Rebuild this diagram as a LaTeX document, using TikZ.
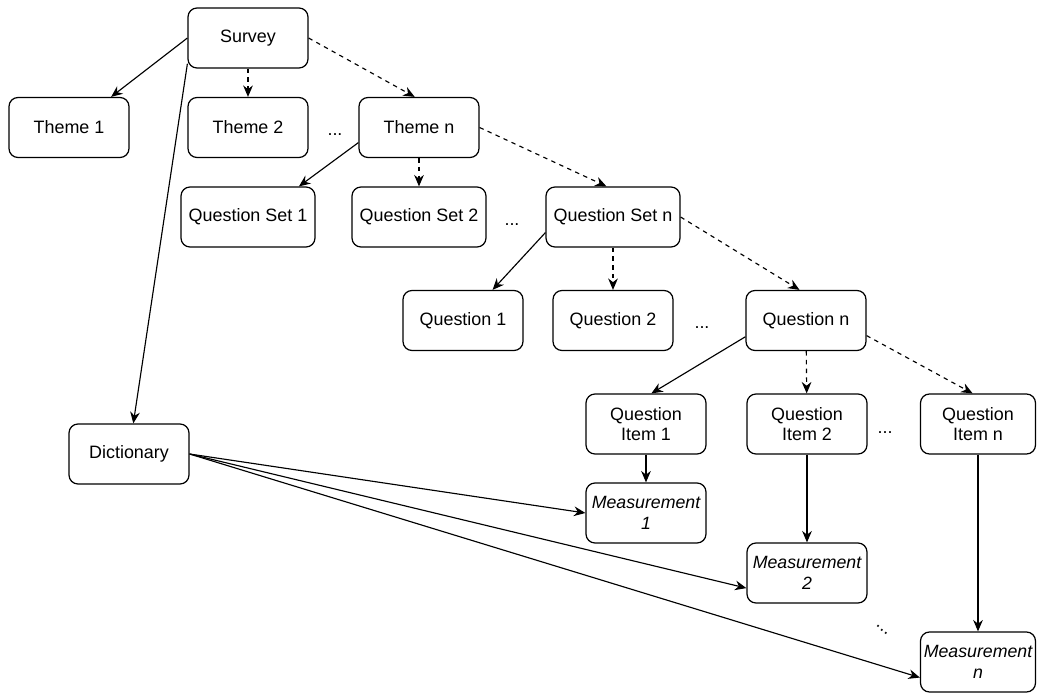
\documentclass[tikz,border=0pt]{standalone}
\usepackage{fontspec}
\setmainfont{Liberation Sans}
\usetikzlibrary{arrows.meta,calc}

\begin{document}
\begin{tikzpicture}[x=0.02cm,y=-0.02cm,
  box/.style={draw,line width=0.7pt,rounded corners=0.18cm,minimum width=2.4cm,
    minimum height=1.2cm,inner sep=1pt,align=center,font=\fontsize{10.2}{11.5}\selectfont},
  wide/.style={box,minimum width=2.68cm},
  meas/.style={box,font=\fontsize{10.1}{11.8}\selectfont\itshape},
  link/.style={line width=0.65pt,-{Stealth[length=6.5pt,width=5.5pt]}},
  dlink/.style={link,dash pattern=on 2.5pt off 2.5pt},
  dots/.style={font=\fontsize{10.2}{11.5}\selectfont,inner sep=0pt}]
\useasboundingbox (0,0) rectangle (1039,693);
% survey and themes
\node[box] (survey) at (248,38) {Survey};
\node[box] (theme1) at (69,127.5) {Theme 1};
\node[box] (theme2) at (248,127.5) {Theme 2};
\node[box] (themen) at (419,127.5) {Theme n};
% question sets
\node[wide] (qset1) at (248,217) {Question Set 1};
\node[wide] (qset2) at (419,217) {Question Set 2};
\node[wide] (qsetn) at (613,217) {Question Set n};
% questions
\node[box] (quest1) at (463,320.5) {Question 1};
\node[box] (quest2) at (613,320.5) {Question 2};
\node[box] (questn) at (806,320.5) {Question n};
% items
\node[box] (item1) at (646,424) {Question\\Item 1};
\node[box] (item2) at (807,424) {Question\\Item 2};
\node[box,minimum width=2.3cm] (itemn) at (978,424) {Question\\Item n};
\node[box] (dict) at (129,454) {Dictionary};
% measurements
\node[meas] (meas1) at (646,513) {Measurement\\1};
\node[meas] (meas2) at (807,573) {Measurement\\2};
\node[meas,minimum width=2.3cm] (measn) at (978,662) {Measurement\\n};
% ellipses
\node[dots] (dotsA) at (335,135) {...};
\node[dots] (dotsB) at (512,225) {...};
\node[dots] (dotsC) at (702,328) {...};
\node[dots] (dotsD) at (885,433) {...};
\node[dots,rotate=-40] (dotsE) at (882,630) {...};
% links
\draw[link] (survey.west) -- (theme1.36);
\draw[link] (survey.203) -- (dict.82);
\draw[dlink] (survey) -- (theme2);
\draw[dlink] (survey.east) -- (themen.98);
\draw[link] (themen.194) -- (qset1.31);
\draw[dlink] (themen) -- (qset2);
\draw[dlink] (themen.east) -- (qsetn.102);
\draw[link] (qsetn.193) -- (quest1.46);
\draw[dlink] (qsetn) -- (quest2);
\draw[dlink] (qsetn.east) -- (questn.102);
\draw[link] (questn.195) -- (item1.80);
\draw[dlink] (questn) -- (item2);
\draw[dlink] (questn.346) -- (itemn.100);
\draw[link] (item1) -- (meas1);
\draw[link] (item2) -- (meas2);
\draw[link] (itemn) -- (measn);
\draw[link] (dict.east) -- (meas1.west);
\draw[link] (dict.east) -- (meas2.194);
\draw[link] (dict.east) -- (measn.195);
\end{tikzpicture}
\end{document}
